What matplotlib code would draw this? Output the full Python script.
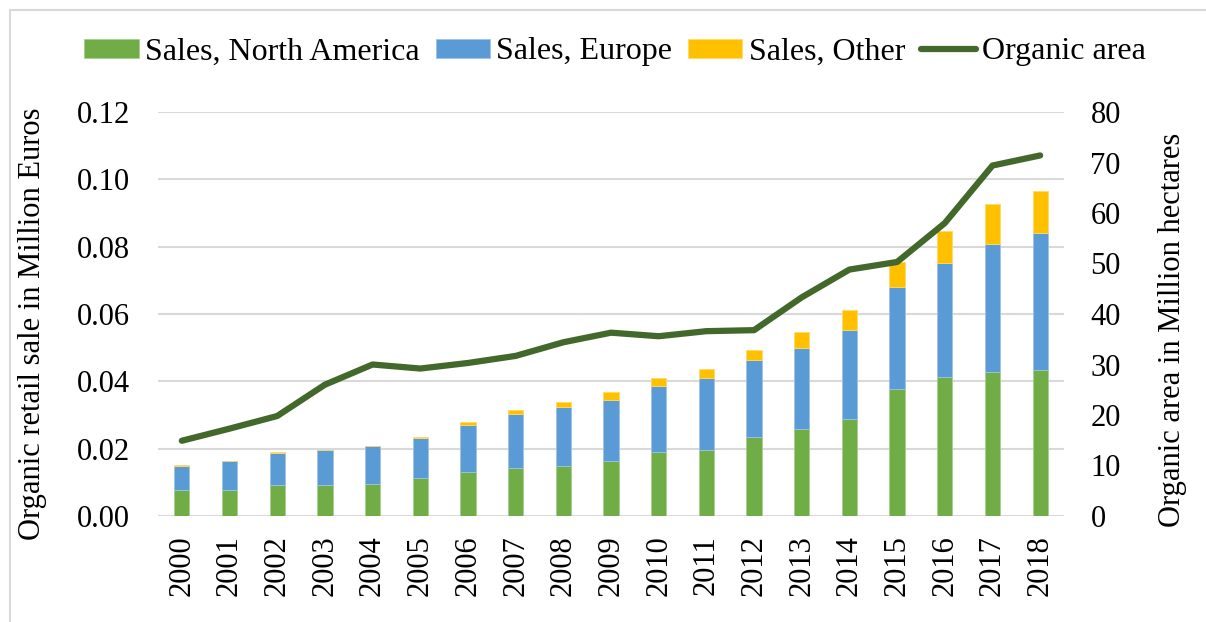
import numpy as np
import matplotlib
matplotlib.use("Agg")
import matplotlib.pyplot as plt
from matplotlib.lines import Line2D

years = [str(y) for y in range(2000, 2019)]
sales_na = [0.0078, 0.0078, 0.0093, 0.0093, 0.0096, 0.0113, 0.0130, 0.0142, 0.0149, 0.0164,
            0.0190, 0.0197, 0.0236, 0.0257, 0.0288, 0.0378, 0.0412, 0.0428, 0.0435]
sales_eu = [0.0071, 0.0084, 0.0093, 0.0102, 0.0111, 0.0119, 0.0140, 0.0161, 0.0176, 0.0181,
            0.0195, 0.0213, 0.0228, 0.0243, 0.0263, 0.0302, 0.0339, 0.0379, 0.0407]
sales_other = [0.0002, 0.0002, 0.0003, 0.0001, 0.0002, 0.0004, 0.0009, 0.0013, 0.0014, 0.0022,
               0.0025, 0.0027, 0.0030, 0.0046, 0.0062, 0.0075, 0.0096, 0.0120, 0.0124]
organic_area = [14.9, 17.3, 19.8, 26.0, 30.0, 29.2, 30.3, 31.7, 34.4, 36.3,
                35.6, 36.6, 36.8, 43.3, 48.8, 50.3, 58.0, 69.4, 71.4]

plt.rcParams['font.family'] = ['Liberation Serif', 'DejaVu Serif']
fs = 22

W, H = 1206, 622
fig = plt.figure(figsize=(W / 100, H / 100), dpi=100)
# light frame (only top and left edges show)
fig.lines.append(Line2D([10 / W, 1], [1 - 10 / H, 1 - 10 / H], transform=fig.transFigure,
                        color="#D9D9D9", linewidth=1.5))
fig.lines.append(Line2D([10 / W, 10 / W], [0, 1 - 10 / H], transform=fig.transFigure,
                        color="#D9D9D9", linewidth=1.5))

ax = fig.add_axes([158 / W, 1 - 516 / H, (1064 - 158) / W, (516 - 112) / H])
x = np.arange(len(years))
w = 0.32
na_b = np.array(sales_na)
eu_b = na_b + np.array(sales_eu)
ax.bar(x, sales_na, w, color="#70AD47", edgecolor="#A9CF91", linewidth=0.6, label="Sales, North America", zorder=2)
ax.bar(x, sales_eu, w, bottom=na_b, color="#5B9BD5", edgecolor="#9DC3E6", linewidth=0.6, label="Sales, Europe", zorder=2)
ax.bar(x, sales_other, w, bottom=eu_b, color="#FFC000", edgecolor="#FFD966", linewidth=0.6, label="Sales, Other", zorder=2)

ax.set_xlim(-0.5, len(years) - 0.5)
ax.set_ylim(0, 0.12)
yt = np.arange(0, 0.121, 0.02)
ax.set_yticks(yt)
ax.set_yticklabels([f"{v:.2f}" for v in yt])
ax.set_xticks(x)
ax.set_xticklabels(years, rotation=90)
ax.yaxis.grid(True, color="#D9D9D9", linewidth=1.5, zorder=0)
ax.set_axisbelow(True)
for s in ax.spines.values():
    s.set_visible(False)
ax.tick_params(axis="y", length=0, labelsize=fs, pad=20)
ax.tick_params(axis="x", length=0, labelsize=fs, pad=14)
ax.set_ylabel("Organic retail sale in Million Euros", fontsize=fs)
ax.yaxis.set_label_coords(-0.1225, 0.475)

ax2 = ax.twinx()
ax2.plot(x, organic_area, color="#43682B", linewidth=4.5, solid_capstyle="round", label="Organic area", zorder=3)
ax2.set_ylim(0, 80)
ax2.set_yticks(np.arange(0, 81, 10))
for s in ax2.spines.values():
    s.set_visible(False)
ax2.tick_params(axis="y", length=0, labelsize=fs, pad=19)
ax2.set_ylabel("Organic area in Million hectares", fontsize=fs)
ax2.yaxis.set_label_coords(1.104, 0.46)

h1, l1 = ax.get_legend_handles_labels()
h2, l2 = ax2.get_legend_handles_labels()
fig.legend(h1 + h2, l1 + l2, loc="center", bbox_to_anchor=(615 / W, 1 - 52 / H), ncol=4,
           frameon=False, fontsize=23, handlelength=1.7, handleheight=0.55,
           handletextpad=0.2, columnspacing=0.5, borderpad=0)

fig.savefig("out.png", dpi=100)
